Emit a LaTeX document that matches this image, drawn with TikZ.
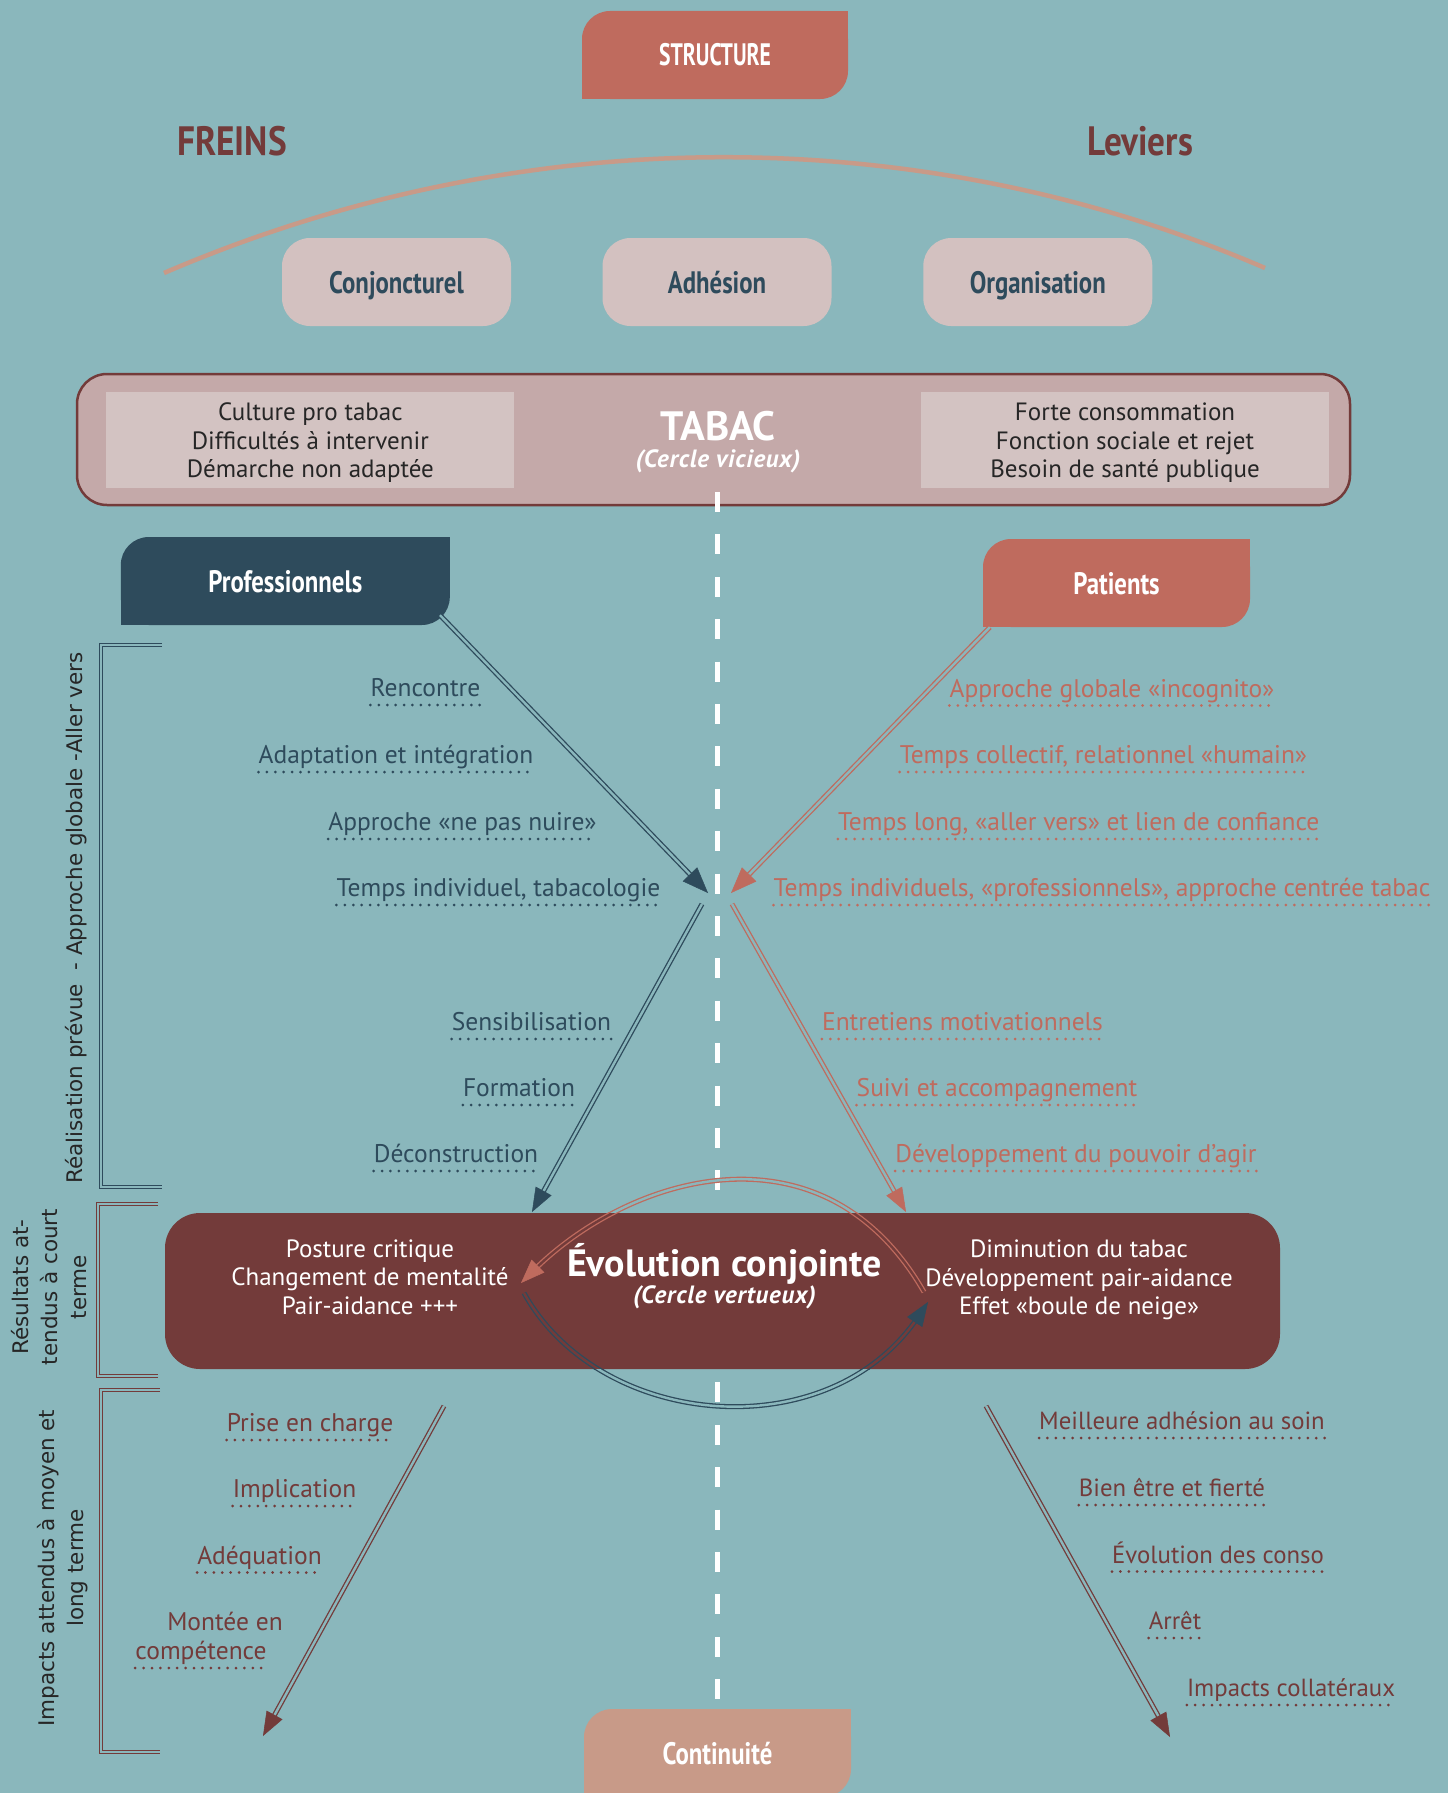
\documentclass[tikz,border=0pt]{standalone}
\usepackage{fontspec}
\setmainfont{PT Sans}
\newfontfamily\headfont[FakeStretch=0.8]{PT Sans}
\newfontfamily\headfontS[FakeStretch=0.7]{PT Sans}
\newfontfamily\headfontL[FakeStretch=0.86]{PT Sans}
\newfontfamily\wideit[LetterSpace=3]{PT Sans}
\newfontfamily\vfont{DejaVu Sans}
\usetikzlibrary{arrows.meta,calc}
\definecolor{bg}{HTML}{8AB7BC}
\definecolor{slate}{HTML}{2E4B5C}
\definecolor{salmon}{HTML}{BF6B5E}
\definecolor{brown}{HTML}{733B3A}
\definecolor{tan}{HTML}{C89A88}
\definecolor{pill}{HTML}{D3C1C0}
\definecolor{tabfill}{HTML}{C4A9A9}
\definecolor{tabin}{HTML}{D3C3C2}
\definecolor{vtext}{HTML}{262626}
\newcommand{\dotul}[2]{\draw[dotsty,#2] ([yshift=-8.5pt]#1.base west) -- ([yshift=-8.5pt]#1.base east);}
\begin{document}
\begin{tikzpicture}[x=1pt,y=-1pt,
  every node/.style={inner sep=0pt},
  leaf/.style={rounded corners=28pt, minimum height=88pt, text height=22pt, text depth=0pt, text=white, font=\headfont\bfseries\fontsize{31}{36}\selectfont},
  pillbox/.style={fill=pill, rounded corners=28pt, minimum width=229pt, minimum height=88pt, text height=22pt, text depth=0pt, text=slate, font=\headfont\bfseries\fontsize{31}{36}\selectfont},
  body/.style={align=center, font=\fontsize{25}{28.5}\selectfont},
  lbl/.style={anchor=base, font=\fontsize{25.5}{29}\selectfont},
  lblr/.style={anchor=base, font=\fontsize{24.8}{29}\selectfont},
  dotsty/.style={line width=3pt, line cap=round, dash pattern=on 0pt off 8.4pt},
  dbl/.style={double=bg, double distance=2.4pt, line width=1.3pt},
  dblin/.style={double=brown, double distance=2.4pt, line width=1.3pt},
  bracketsty/.style={double=bg, double distance=2pt, line width=1.3pt},
  vlab/.style={rotate=90, align=center, font=\vfont\fontsize{21.5}{29}\selectfont, text=vtext},
  headA/.style={-{Triangle[length=26pt,width=20pt]}, line width=0.5pt},
  headB/.style={-{Triangle[length=24pt,width=18pt]}, line width=0.5pt},
  subt/.style={font=\wideit\bfseries\itshape\fontsize{25}{28}\selectfont, text=white},
]
\useasboundingbox (0,0) rectangle (1448,1793);
\fill[bg] (0,0) rectangle (1448,1793);

% STRUCTURE
\node[leaf, fill=salmon, minimum width=266pt, font=\headfontS\bfseries\fontsize{31}{36}\selectfont] (structure) at (715,55) {STRUCTURE};
\fill[salmon] (structure.north east) rectangle ++(-30,30);
\fill[salmon] (structure.south west) rectangle ++(30,-30);

% Freins / Leviers
\node[font=\headfontL\bfseries\fontsize{41}{44}\selectfont, text=brown] (freins) at (232,141) {FREINS};
\node[font=\headfontL\bfseries\fontsize{41}{44}\selectfont, text=brown] (leviers) at (1140,141) {Leviers};
\draw[tan, line width=4.5pt] (164,273) .. controls (515,122) and (914,117) .. (1265,268);

% pills
\node[pillbox] (conj) at (396.5,282) {Conjoncturel};
\node[pillbox] (adh) at (717,282) {Adhésion};
\node[pillbox] (orga) at (1037.8,282) {Organisation};

% TABAC
\node[draw=brown, line width=2.5pt, fill=tabfill, rounded corners=30pt, minimum width=1273pt, minimum height=131pt] (tabacbox) at (713.5,439.5) {};
\node[fill=tabin, minimum width=408pt, minimum height=96pt] (freinsbox) at (310.3,440) {};
\node[fill=tabin, minimum width=408pt, minimum height=96pt] (leviersbox) at (1125,440) {};
\node[body, text=vtext] (freinstxt) at (310.3,443) {Culture pro tabac\\Difficultés à intervenir\\Démarche non adaptée};
\node[body, text=vtext] (levierstxt) at (1125,443) {Forte consommation\\Fonction sociale et rejet\\Besoin de santé publique};
\node[font=\bfseries\fontsize{41}{44}\selectfont, text=white] (tabac) at (718,426) {TABAC};
\node[subt] (vicieux) at (718,461) {(Cercle vicieux)};

% dashed axis
\coordinate (axTop) at (717,492);
\coordinate (axBot) at (717,1699);
\draw[white, line width=5pt, dash pattern=on 20pt off 22.4pt] (axTop) -- (axBot);

% Professionnels / Patients
\node[leaf, fill=slate, minimum width=329pt] (prof) at (285.3,581) {Professionnels};
\fill[slate] (prof.north east) rectangle ++(-30,30);
\fill[slate] (prof.south west) rectangle ++(30,-30);
\node[leaf, fill=salmon, minimum width=267pt] (pat) at (1116.5,583) {Patients};
\fill[salmon] (pat.north east) rectangle ++(-30,30);
\fill[salmon] (pat.south west) rectangle ++(30,-30);

% brackets
\draw[bracketsty, slate] (162,645) -- (101,645) -- (101,1187) -- (162,1187);
\draw[bracketsty, brown] (158,1204) -- (98,1204) -- (98,1376) -- (158,1376);
\draw[bracketsty, brown] (160,1390) -- (101,1390) -- (101,1752) -- (160,1752);
\node[vlab] (vl1) at (76,918) {Réalisation prévue\ \ - Approche globale -Aller vers};
\node[vlab] (vl2) at (49,1287) {Résultats at-\\tendus à court\\terme};
\node[vlab] (vl3) at (63,1568) {Impacts attendus à moyen et\\long terme};

% upper arrows
\coordinate (profStart) at ([shift={(-10,-10)}]prof.south east);
\coordinate (patStart) at ([shift={(7,0)}]pat.south west);
\coordinate (tipP) at (708,893);
\coordinate (tipQ) at (731,893);
\draw[dbl, slate, shorten >=18pt] (profStart) -- (tipP);
\draw[slate, headA] ($(tipP)!3pt!(profStart)$) -- (tipP);
\draw[dbl, salmon, shorten >=18pt] (patStart) -- (tipQ);
\draw[salmon, headA] ($(tipQ)!3pt!(patStart)$) -- (tipQ);

% labels upper left
\node[lbl, text=slate] (l1) at (425.5,696.5) {Rencontre};
\node[lbl, text=slate] (l2) at (396,763.5) {Adaptation et intégration};
\node[lbl, text=slate] (l3) at (462.5,830.5) {Approche «ne pas nuire»};
\node[lbl, text=slate] (l4) at (498.5,896.5) {Temps individuel, tabacologie};
\node[lbl, text=slate] (l5) at (531.5,1030.5) {Sensibilisation};
\node[lbl, text=slate] (l6) at (519,1096.5) {Formation};
\node[lbl, text=slate] (l7) at (456,1162.5) {Déconstruction};
\foreach \n in {l1,l2,l3,l4,l5,l6,l7} {\dotul{\n}{slate}}
% labels upper right
\node[lbl, text=salmon] (r1) at (1112,697) {Approche globale «incognito»};
\node[lbl, text=salmon] (r2) at (1103.5,763.5) {Temps collectif, relationnel «humain»};
\node[lbl, text=salmon] (r3) at (1078.7,830.5) {Temps long, «aller vers» et lien de confiance};
\node[lbl, text=salmon] (r4) at (1102,896.5) {Temps individuels, «professionnels», approche centrée tabac};
\node[lbl, text=salmon] (r5) at (962.5,1030.5) {Entretiens motivationnels};
\node[lbl, text=salmon] (r6) at (997,1096.5) {Suivi et accompagnement};
\node[lbl, text=salmon] (r7) at (1076,1162.5) {Développement du pouvoir d’agir};
\foreach \n in {r1,r2,r3,r4,r5,r6,r7} {\dotul{\n}{salmon}}

% Evolution box
\node[fill=brown, rounded corners=35pt, minimum width=1115pt, minimum height=156pt] (evobox) at (722.5,1291) {};
\node[body, text=white] (evoL) at (370,1277) {Posture critique\\Changement de mentalité\\Pair-aidance +++};
\node[body, text=white] (evoR) at (1079,1280) {Diminution du tabac\\Développement pair-aidance\\Effet «boule de neige»};
\node[font=\bfseries\fontsize{38}{42}\selectfont, text=white] (evo) at (724.5,1264) {Évolution conjointe};
\node[subt] (vertueux) at (724.5,1297.5) {(Cercle vertueux)};

% middle arrows
\coordinate (lp1) at (702,904);
\coordinate (lp2) at (532,1212);
\coordinate (lq1) at (732,904);
\coordinate (lq2) at (906,1212);
\draw[dbl, slate, shorten >=18pt] (lp1) -- (lp2);
\draw[slate, headB] ($(lp2)!3pt!(lp1)$) -- (lp2);
\draw[dbl, salmon, shorten >=18pt] (lq1) -- (lq2);
\draw[salmon, headB] ($(lq2)!3pt!(lq1)$) -- (lq2);

% cycle arrows
\coordinate (cs1) at (924,1292);
\coordinate (cs2) at (521,1283);
\coordinate (cd1) at (524,1293);
\coordinate (cd2) at (928,1302);
\begin{scope}
\clip (evobox.north west) rectangle (evobox.south east);
\draw[dblin, salmon, shorten >=16pt] (cs1) .. controls (824,1118) and (631,1173) .. (cs2);
\draw[dblin, slate, shorten >=16pt] (cd1) .. controls (600,1430) and (830,1450) .. (cd2);
\end{scope}
\begin{scope}[even odd rule]
\clip (0,0) rectangle (1448,1793) (evobox.north west) rectangle (evobox.south east);
\draw[dbl, salmon, shorten >=16pt] (cs1) .. controls (824,1118) and (631,1173) .. (cs2);
\draw[dbl, slate, shorten >=16pt] (cd1) .. controls (600,1430) and (830,1450) .. (cd2);
\end{scope}
\draw[salmon, headB] ($(cs2)!2pt!(631,1173)$) -- (cs2);
\draw[slate, headB] ($(cd2)!2pt!(830,1450)$) -- (cd2);

% lower arrows
\coordinate (bl1) at (444,1406);
\coordinate (bl2) at (263,1736);
\coordinate (br1) at (986,1406);
\coordinate (br2) at (1170,1737);
\draw[dbl, brown, shorten >=18pt] (bl1) -- (bl2);
\draw[brown, headB] ($(bl2)!3pt!(bl1)$) -- (bl2);
\draw[dbl, brown, shorten >=18pt] (br1) -- (br2);
\draw[brown, headB] ($(br2)!3pt!(br1)$) -- (br2);

% lower labels
\node[lbl, text=brown] (b1) at (310,1431.5) {Prise en charge};
\node[lbl, text=brown] (b2) at (294.5,1497.5) {Implication};
\node[lbl, text=brown] (b3) at (259.5,1564) {Adéquation};
\node[lbl, text=brown] (b4a) at (225,1630) {Montée en};
\node[lbl, text=brown] (b4b) at (201,1659.5) {compétence};
\foreach \n in {b1,b2,b3,b4b} {\dotul{\n}{brown}}
\node[lblr, text=brown] (c1) at (1182,1429.5) {Meilleure adhésion au soin};
\node[lblr, text=brown] (c2) at (1172,1496.5) {Bien être et fierté};
\node[lblr, text=brown] (c3) at (1218,1563) {Évolution des conso};
\node[lblr, text=brown] (c4) at (1175,1629.5) {Arrêt};
\node[lblr, text=brown] (c5) at (1291,1696.5) {Impacts collatéraux};
\foreach \n in {c1,c2,c3,c4,c5} {\dotul{\n}{brown}}

% Continuite
\node[leaf, fill=tan, minimum width=267pt] (cont) at (717.5,1753) {Continuité};
\fill[tan] (cont.north east) rectangle ++(-30,30);
\fill[tan] (cont.south west) rectangle ++(30,-30);
\end{tikzpicture}
\end{document}
